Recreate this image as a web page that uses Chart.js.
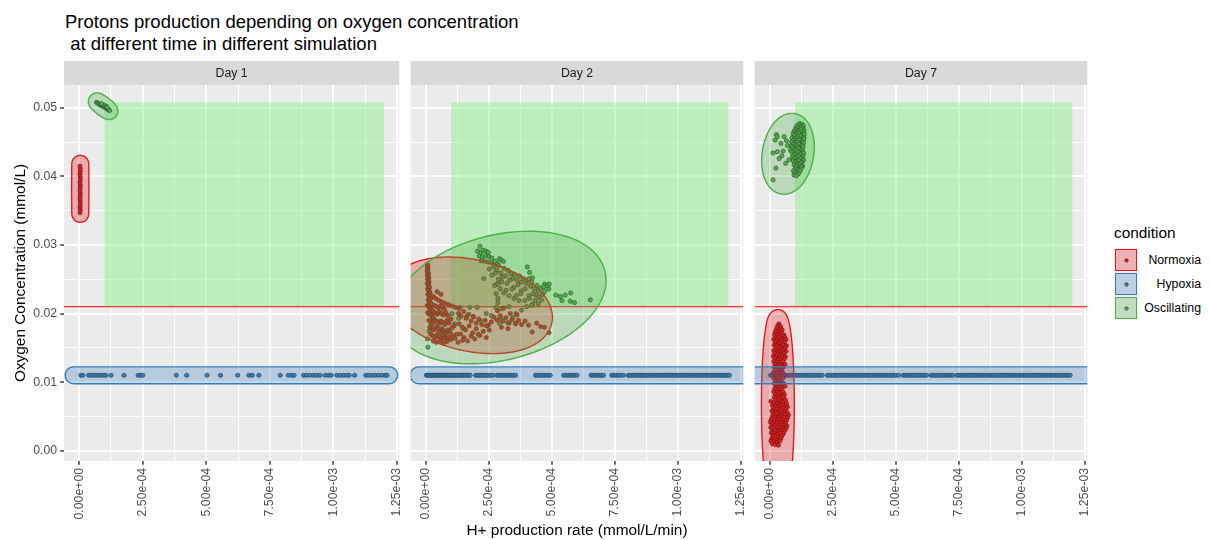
<!DOCTYPE html>
<html>
<head>
<meta charset="utf-8">
<title>Protons production depending on oxygen concentration</title>
<script src="https://cdn.jsdelivr.net/npm/chart.js@4.4.1/dist/chart.umd.min.js"></script>
<style>
  html, body { margin: 0; padding: 0; background: #ffffff; }
  body { position: relative; width: 1209px; height: 540px; overflow: hidden;
         font-family: "Liberation Sans", Arial, Helvetica, sans-serif; }
  canvas { position: absolute; top: 61px; }
  #plot-title { position: absolute; left: 65px; top: 11px; font-size: 18.5px; line-height: 21.5px;
                color: #000; white-space: pre; }
  #x-title { position: absolute; left: 64px; width: 1026px; top: 521px; text-align: center;
             font-size: 15.4px; line-height: 18px; color: #000; }
  #legend { position: absolute; left: 1114px; top: 224px; width: 87px; }
  #legend .lt { font-size: 15.4px; line-height: 18px; height: 24px; color: #000; }
  #legend .row { position: relative; height: 24.2px; width: 87px; }
  #legend .key { position: absolute; left: 0; top: 0; width: 24px; height: 24px; background: #F2F2F2; }
  #legend .key i { position: absolute; left: 1px; top: 1px; right: 1px; bottom: 1px;
                   border: 1.4px solid; box-sizing: border-box; }
  #legend .key b { position: absolute; left: 10.5px; top: 10.5px; width: 3px; height: 3px; border-radius: 50%; }
  #legend .lab { position: absolute; right: 0; top: 0; line-height: 24px; font-size: 12.3px; color: #000; }
</style>
</head>
<body>
<div id="plot-title">Protons production depending on oxygen concentration
 at different time in different simulation</div>
<canvas id="day1"></canvas>
<canvas id="day2"></canvas>
<canvas id="day7"></canvas>
<div id="x-title">H+ production rate (mmol/L/min)</div>
<div id="legend"></div>
<script>
// ---------------------------------------------------------------------------
// Data
// ---------------------------------------------------------------------------
const panels = ['Day 1', 'Day 2', 'Day 7'];
const conditions = ['Normoxia', 'Hypoxia', 'Oscillating'];
const conditionColors = ['#E41A1C', '#377EB8', '#4DAF4A'];

const xBreaks = [0, 2.5e-4, 5e-4, 7.5e-4, 1e-3, 1.25e-3];
const xMinorBreaks = [1.25e-4, 3.75e-4, 6.25e-4, 8.75e-4, 1.125e-3];
const xTickLabels = ['0.00e+00', '2.50e-04', '5.00e-04', '7.50e-04', '1.00e-03', '1.25e-03'];
const xRange = [-6e-5, 1.26e-3];

const yBreaks = [0, 0.01, 0.02, 0.03, 0.04, 0.05];
const yMinorBreaks = [0.005, 0.015, 0.025, 0.035, 0.045];
const yTickLabels = ['0.00', '0.01', '0.02', '0.03', '0.04', '0.05'];
const yRange = [-0.0015, 0.05333];

const xTitle = 'H+ production rate (mmol/L/min)';
const yTitle = 'Oxygen Concentration (mmol/L)';

// reference levels (mmol/L) and target zone
const normoxiaThreshold = 0.021;
const hypoxiaLevel = 0.011;
const zoneX = [1e-4, 1.2e-3];
const zoneY = [0.021, 0.0508];

// production rates below are listed in nmol/L/min
const RATE_UNIT = 1e-6;

// Day 1
const d1Norm = [[3,.0347],[4,.0351],[3,.0355],[4,.0359],[4,.0363],[3,.0367],[4,.0371],[4,.0375],[3,.0379],
  [4,.0383],[4,.0387],[3,.0391],[4,.0395],[4,.0399],[3,.0403],[4,.0407],[4,.0411],[3,.0415]];
const d1HypX = [6,14,37,46,57,66,77,86,96,105,125,176,232,241,250,382,423,503,556,624,668,681,707,791,823,
  836,846,883,895,908,922,935,948,968,981,992,1014,1027,1041,1054,1063,1084,1128,1139,1152,1165,1179,1192,1205,1212];
const d1Osc = [[68,.0508],[72,.0507],[76,.0506],[80,.0505],[84,.0504],[88,.0503],[92,.0503],[96,.0502],
  [100,.0501],[104,.0500],[108,.0499],[112,.0498],[116,.0497],[120,.0496],[98,.0504],[106,.0502],[110,.0501],[88,.0506]];

// Day 2
const d2Norm = [[5,.0272],[8,.0270],[6,.0267],[9,.0265],[5,.0262],[8,.0260],[11,.0258],[6,.0256],[9,.0254],
  [12,.0252],[7,.0250],[10,.0248],[13,.0246],[6,.0244],[9,.0242],[12,.0240],[15,.0238],[7,.0236],[10,.0234],
  [14,.0232],[17,.0230],[8,.0228],[12,.0226],[16,.0224],[20,.0222],[9,.0220],[13,.0218],[18,.0216],[22,.0214],
  [6,.0212],[11,.0210],[16,.0208],[21,.0206],[26,.0204],[8,.0202],[14,.0200],[19,.0198],[24,.0196],[30,.0194],
  [34,.0212],[42,.0210],[50,.0208],[58,.0211],[66,.0209],[74,.0206],[30,.0203],[38,.0201],[46,.0199],[54,.0202],
  [62,.0200],[70,.0198],[80,.0201],[88,.0197],[12,.0190],[20,.0188],[28,.0186],[36,.0190],[44,.0188],[52,.0185],
  [60,.0189],[68,.0187],[76,.0184],[84,.0190],[92,.0186],[100,.0192],[16,.0180],[24,.0178],[32,.0176],[40,.0180],
  [48,.0177],[56,.0174],[64,.0178],[72,.0175],[80,.0172],[88,.0176],[96,.0173],[104,.0179],[112,.0182],[20,.0170],
  [28,.0167],[36,.0165],[44,.0169],[52,.0166],[60,.0163],[68,.0168],[76,.0164],[84,.0161],[92,.0166],[100,.0162],
  [108,.0168],[116,.0164],[124,.0170],[30,.0160],[42,.0158],[56,.0160],[70,.0157],[84,.0159],
  [30,.0225],[40,.0222],[52,.0219],[64,.0217],[76,.0215],[90,.0213],[104,.0211],[118,.0209],[45,.0232],[60,.0228],[132,.0207],
  [130,.0200],[140,.0196],[150,.0203],[160,.0193],[170,.0199],[180,.0189],[190,.0195],[200,.0186],[210,.0192],
  [222,.0184],[235,.0190],[248,.0183],[260,.0188],[132,.0185],[145,.0180],[158,.0176],[172,.0182],[186,.0172],
  [200,.0178],[214,.0168],[228,.0174],[240,.0182],[252,.0176],[138,.0170],[152,.0165],[166,.0160],[180,.0167],
  [194,.0163],[208,.0170],[240,.0165],[128,.0158],[146,.0161],
  [270,.0195],[282,.0191],[295,.0197],[306,.0189],[318,.0194],[330,.0186],[342,.0191],[356,.0185],[368,.0190],
  [380,.0184],[394,.0189],[408,.0183],[422,.0173],[440,.0186],[456,.0181],[471,.0180],[489,.0172],[300,.0180],
  [326,.0178],[358,.0186],[284,.0204],[310,.0208],[335,.0200],[362,.0198]];
const d2HypX = [2,7,13,19,24,30,36,41,47,53,58,64,70,76,82,88,94,100,106,112,119,125,131,138,144,150,156,163,170,176,
  198,205,212,219,226,233,241,249,258,268,283,290,298,306,314,322,330,339,347,356,435,443,451,459,468,477,486,494,
  547,556,565,573,582,591,600,656,664,673,681,690,698,705,738,746,755,764,773,784,803,810,818,825,833,841,849,857,
  864,872,880,888,897,905,913,921,929,937,946,954,962,970,978,986,994,1002,1010,1018,1027,1035,1043,1051,1059,1067,
  1076,1084,1092,1100,1108,1116,1124,1132,1141,1149,1157,1165,1173,1181,1189,1197,1205];
const d2Osc = [[215,.0298],[205,.0291],[218,.0289],[228,.0292],[240,.0291],[248,.0289],[212,.0284],[224,.0282],
  [236,.0284],[250,.0283],[262,.0281],[220,.0277],[235,.0276],[248,.0275],[262,.0274],[275,.0276],[292,.0280],
  [300,.0278],[308,.0276],[285,.0272],
  [270,.0268],[281,.0263],[289,.0270],[298,.0259],[311,.0266],[317,.0255],[326,.0263],[338,.0258],[344,.0251],
  [352,.0257],[361,.0249],[371,.0255],[379,.0246],[387,.0251],[399,.0244],[404,.0249],[416,.0240],[421,.0246],
  [431,.0236],[441,.0241],[447,.0233],[456,.0237],[463,.0228],[471,.0232],[449,.0224],[459,.0220],[437,.0227],
  [252,.0265],[262,.0256],[276,.0259],[288,.0250],[304,.0253],[322,.0244],[333,.0249],[349,.0238],[366,.0242],
  [378,.0233],[394,.0236],[409,.0226],[426,.0229],[434,.0219],[446,.0214],[283,.0243],[301,.0246],[318,.0234],
  [342,.0236],[359,.0226],[377,.0229],[393,.0219],[412,.0222],[423,.0213],
  [230,.0251],[273,.0241],[279,.0229],[286,.0222],[279,.0209],[286,.0216],[286,.0243],[295,.0236],[310,.0230],
  [330,.0226],[350,.0222],[370,.0219],
  [403,.0268],[412,.0260],[423,.0252],[410,.0251],[472,.0243],[481,.0241],[490,.0243],[488,.0236],[468,.0239],
  [516,.0227],[533,.0225],[553,.0227],[575,.0230],[573,.0218],[653,.0220],[540,.0219],[590,.0216],
  [136,.0209],[175,.0209],[204,.0209],[104,.0200],[130,.0193],[162,.0196],[188,.0196],[299,.0193],[325,.0187],
  [292,.0186],[345,.0194],[358,.0200],[6,.0163],[8,.0151],[12,.0174],[32,.0192],[45,.0180],[60,.0172],[75,.0168],
  [90,.0175],[50,.0188],[20,.0183],[115,.0185],[150,.0178],[240,.0200],[260,.0197],[215,.0190],[380,.0205],
  [400,.0210],[420,.0212],[330,.0210],[300,.0207],[10,.0200],[14,.0230],[18,.0210]];

// Day 7
const d7Norm = [[36,.0185],[31,.0182],[43,.0181],[27,.0178],[39,.0177],[49,.0176],[23,.0174],[35,.0173],[46,.0172],
  [19,.0170],[30,.0169],[42,.0168],[56,.0169],[21,.0166],[33,.0165],[45,.0164],[60,.0165],[16,.0162],[27,.0161],
  [40,.0160],[52,.0161],[64,.0162],[22,.0158],[34,.0157],[47,.0156],[58,.0158],[18,.0154],[30,.0153],[42,.0152],
  [54,.0154],[66,.0153],[24,.0150],[36,.0149],[48,.0148],[60,.0150],[16,.0146],[28,.0145],[41,.0144],[52,.0146],
  [64,.0145],[20,.0142],[32,.0141],[44,.0140],[56,.0142],[14,.0138],[26,.0137],[38,.0136],[50,.0138],[62,.0137],
  [20,.0134],[33,.0133],[44,.0132],[58,.0134],[16,.0130],[28,.0129],[40,.0128],[52,.0130],[22,.0126],[34,.0125],
  [46,.0124],[60,.0126],[18,.0122],[30,.0121],[42,.0120],[54,.0122],[24,.0118],[36,.0117],[48,.0116],[14,.0114],
  [26,.0113],[38,.0112],[50,.0114],[20,.0110],[32,.0109],[44,.0108],[56,.0110],[16,.0106],[28,.0105],[40,.0104],
  [52,.0106],[22,.0102],[34,.0101],[46,.0100],[18,.0098],[30,.0097],[42,.0096],[54,.0098],[24,.0094],[36,.0093],
  [48,.0092],[60,.0094],[20,.0090],[32,.0089],[44,.0088],[16,.0086],[28,.0085],[40,.0084],[52,.0086],[22,.0082],
  [34,.0081],[46,.0080],[58,.0082],[18,.0078],[30,.0077],[42,.0076],[54,.0078],[4,.0072],[24,.0074],[36,.0073],
  [48,.0072],[62,.0074],[14,.0070],[28,.0069],[40,.0068],[52,.0070],[66,.0069],[10,.0066],[22,.0065],[34,.0064],
  [46,.0066],[58,.0065],[70,.0064],[16,.0062],[28,.0061],[40,.0060],[52,.0062],[64,.0061],[8,.0058],[20,.0057],
  [32,.0056],[44,.0058],[56,.0057],[68,.0056],[14,.0054],[26,.0053],[38,.0052],[50,.0054],[62,.0053],[74,.0052],
  [10,.0050],[22,.0049],[34,.0048],[46,.0050],[58,.0049],[70,.0048],[6,.0046],[18,.0045],[30,.0044],[42,.0046],
  [54,.0045],[66,.0044],[2,.0042],[14,.0041],[26,.0040],[38,.0042],[50,.0041],[62,.0040],[8,.0038],[20,.0037],
  [32,.0036],[44,.0038],[56,.0037],[68,.0036],[4,.0034],[16,.0033],[28,.0032],[40,.0034],[52,.0033],[64,.0032],
  [10,.0030],[22,.0029],[34,.0028],[46,.0030],[58,.0029],[6,.0026],[18,.0025],[30,.0024],[42,.0026],[54,.0025],
  [12,.0022],[24,.0021],[36,.0020],[48,.0022],[8,.0018],[20,.0017],[32,.0016],[44,.0018],[4,.0014],[16,.0013],
  [28,.0012],[40,.0014],[10,.0010],[22,.0009],[34,.0008]];
const d7HypX = [3,12,21,29,38,46,55,63,72,80,89,97,106,114,123,131,140,148,157,165,174,182,191,199,208,228,236,
  245,253,262,270,279,287,296,304,313,321,330,338,347,355,364,372,381,389,398,406,415,423,432,440,449,457,466,474,
  483,491,500,510,528,537,545,554,562,571,579,588,596,605,613,622,640,649,657,666,674,683,691,700,708,717,726,742,
  751,759,768,776,785,793,802,810,819,827,836,844,853,861,870,878,887,895,904,912,921,929,938,946,955,963,972,980,
  989,997,1006,1014,1023,1031,1040,1048,1057,1065,1074,1082,1091,1099,1108,1116,1125,1133,1142,1150,1159,1167,
  1176,1184,1192];
const d7Osc = [[118,.0477],[127,.0476],[108,.0474],[122,.0473],[133,.0474],[104,.0471],[115,.0470],[126,.0471],
  [135,.0469],[100,.0468],[112,.0467],[124,.0468],[136,.0466],[96,.0465],[108,.0464],[120,.0465],[132,.0463],
  [92,.0462],[104,.0461],[116,.0462],[128,.0460],[137,.0461],[98,.0459],[110,.0458],[122,.0459],[134,.0457],
  [88,.0456],[100,.0455],[112,.0456],[124,.0454],[136,.0455],[94,.0453],[106,.0452],[118,.0453],[130,.0451],
  [86,.0450],[98,.0449],[110,.0450],[122,.0448],[134,.0449],[92,.0447],[104,.0446],[116,.0447],[128,.0445],
  [84,.0444],[96,.0443],[108,.0444],[120,.0442],[132,.0443],[90,.0441],[102,.0440],[114,.0441],[126,.0439],
  [82,.0438],[94,.0437],[106,.0438],[118,.0436],[130,.0437],[88,.0435],[100,.0434],[112,.0435],[124,.0433],
  [134,.0434],[96,.0432],[108,.0431],[120,.0432],[132,.0430],[90,.0429],[102,.0428],[114,.0429],[126,.0427],
  [98,.0426],[110,.0425],[122,.0426],[134,.0424],[92,.0423],[104,.0422],[116,.0423],[128,.0421],[100,.0420],
  [112,.0419],[124,.0420],[96,.0417],[108,.0416],[120,.0417],[130,.0415],[104,.0414],[116,.0413],[126,.0414],
  [100,.0411],[112,.0410],[124,.0411],[94,.0408],[108,.0407],[120,.0408],[100,.0405],[114,.0404],[96,.0402],
  [106,.0401],[26,.0461],[30,.0458],[21,.0453],[13,.0434],[30,.0436],[53,.0437],[37,.0426],[63,.0419],[76,.0424],
  [44,.0448],[57,.0458],[70,.0445],[24,.0412],[13,.0395],[48,.0430],[66,.0452]];

// Enclosing ellipses per group: [centre rate, centre O2, half-axis u (rate, O2), half-axis v (rate, O2)]
const d1NormEllipse = [4, 0.03818, 1, 0, 0, 0.00366];
const d1HypEllipse = [599, 0.011, 621, 0, 0, 0];
const d1OscEllipse = [94, 0.05023, 25, -0.000686, 0, 0.00022];
const d2NormEllipse = [178, 0.0212, 291, -0.00175, 0, 0.00555];
const d2HypEllipse = [616, 0.011, 644, 0, 0, 0];
const d2OscEllipse = [293, 0.02234, 389, 0.00251, 0, 0.00806];
const d7NormEllipse = [32, 0.0067, 32, 0, 0, 0.01265];
const d7HypEllipse = [620, 0.011, 700, 0, 0, 0];
const d7OscEllipse = [72, 0.0433, 71, 0.00102, 0, 0.00456];

// ---------------------------------------------------------------------------
// Assembly
// ---------------------------------------------------------------------------
const toRate = v => v * RATE_UNIT;
const hypPoints = xs => xs.map(x => [x, hypoxiaLevel]);

const panelData = [
  { points: [d1Norm, hypPoints(d1HypX), d1Osc], ellipses: [d1NormEllipse, d1HypEllipse, d1OscEllipse] },
  { points: [d2Norm, hypPoints(d2HypX), d2Osc], ellipses: [d2NormEllipse, d2HypEllipse, d2OscEllipse] },
  { points: [d7Norm, hypPoints(d7HypX), d7Osc], ellipses: [d7NormEllipse, d7HypEllipse, d7OscEllipse] }
];

const FONT = '"Liberation Sans", Arial, Helvetica, sans-serif';
const canvasIds = ['day1', 'day2', 'day7'];
const panelLeft = [64, 408, 752];
const PANEL_W = 338, STRIP_H = 24, CANVAS_H = 479, XAXIS_H = 79, YAXIS_W = 64;
const ELLIPSE_PAD = 8.4;    // outline distance around each group, px
const ELLIPSE_ALPHA = 0.3;

Chart.defaults.font.family = FONT;

function hexA(hex, a) {
  const n = parseInt(hex.slice(1), 16);
  return `rgba(${(n >> 16) & 255},${(n >> 8) & 255},${n & 255},${a})`;
}
function labelFor(breaks, labels, v) {
  const k = breaks.findIndex(b => Math.abs(b - v) < 1e-12);
  return k < 0 ? '' : labels[k];
}
function isMajor(breaks, ctx) {
  return !!(ctx && ctx.tick) && breaks.some(b => Math.abs(b - ctx.tick.value) < 1e-12);
}

// outline of an ellipse grown by a fixed pixel margin (support-function form)
function ellipseOutline(chart, e) {
  const xs = chart.scales.x, ys = chart.scales.y;
  const cx = toRate(e[0]), cy = e[1];
  const px = xs.getPixelForValue(cx), py = ys.getPixelForValue(cy);
  const Ux = xs.getPixelForValue(cx + toRate(e[2])) - px, Uy = ys.getPixelForValue(cy + e[3]) - py;
  const Vx = xs.getPixelForValue(cx + toRate(e[4])) - px, Vy = ys.getPixelForValue(cy + e[5]) - py;
  const a = Ux * Ux + Vx * Vx + 1e-6, b = Ux * Uy + Vx * Vy, c = Uy * Uy + Vy * Vy + 1e-6;
  const pts = [];
  const N = 360;
  for (let i = 0; i < N; i++) {
    const t = (i / N) * Math.PI * 2;
    const n1 = Math.cos(t), n2 = Math.sin(t);
    const s1 = a * n1 + b * n2, s2 = b * n1 + c * n2;
    const h = Math.sqrt(n1 * s1 + n2 * s2);
    pts.push([px + s1 / h + ELLIPSE_PAD * n1, py + s2 / h + ELLIPSE_PAD * n2]);
  }
  return pts;
}

const facetPlugin = {
  id: 'facet',
  beforeDraw(chart, _args, opts) {
    const { ctx, chartArea: a } = chart;
    ctx.save();
    ctx.fillStyle = '#EBEBEB';
    ctx.fillRect(a.left, a.top, a.right - a.left, a.bottom - a.top);
    ctx.fillStyle = '#D9D9D9';
    ctx.fillRect(a.left, a.top - STRIP_H, a.right - a.left, STRIP_H);
    ctx.fillStyle = '#1A1A1A';
    ctx.font = `12.3px ${FONT}`;
    ctx.textAlign = 'center';
    ctx.textBaseline = 'middle';
    ctx.fillText(opts.label, (a.left + a.right) / 2, a.top - STRIP_H / 2 + 0.5);
    ctx.restore();
  },
  beforeDatasetsDraw(chart) {
    const { ctx, chartArea: a, scales: { x, y } } = chart;
    ctx.save();
    ctx.beginPath();
    ctx.rect(a.left, a.top, a.right - a.left, a.bottom - a.top);
    ctx.clip();
    const x0 = x.getPixelForValue(zoneX[0]), x1 = x.getPixelForValue(zoneX[1]);
    const y0 = y.getPixelForValue(zoneY[0]), y1 = y.getPixelForValue(zoneY[1]);
    ctx.fillStyle = 'rgba(144,238,144,0.5)';
    ctx.fillRect(x0, y1, x1 - x0, y0 - y1);
    const yl = y.getPixelForValue(normoxiaThreshold);
    ctx.strokeStyle = '#FF0000';
    ctx.lineWidth = 1.1;
    ctx.beginPath();
    ctx.moveTo(a.left, yl);
    ctx.lineTo(a.right, yl);
    ctx.stroke();
    ctx.restore();
  },
  afterDatasetsDraw(chart, _args, opts) {
    const { ctx, chartArea: a } = chart;
    ctx.save();
    ctx.beginPath();
    ctx.rect(a.left, a.top, a.right - a.left, a.bottom - a.top);
    ctx.clip();
    opts.ellipses.forEach((e, c) => {
      const pts = ellipseOutline(chart, e);
      ctx.beginPath();
      pts.forEach(([px, py], k) => (k ? ctx.lineTo(px, py) : ctx.moveTo(px, py)));
      ctx.closePath();
      ctx.fillStyle = hexA(conditionColors[c], ELLIPSE_ALPHA);
      ctx.fill();
      ctx.strokeStyle = conditionColors[c];
      ctx.lineWidth = 1.4;
      ctx.stroke();
    });
    ctx.restore();
  }
};

function buildPanel(i) {
  const canvas = document.getElementById(canvasIds[i]);
  const showY = i === 0;
  const left = panelLeft[i] - (showY ? YAXIS_W : 0);
  const width = PANEL_W + (showY ? YAXIS_W : 0);
  canvas.width = width;
  canvas.height = CANVAS_H;
  canvas.style.left = left + 'px';
  canvas.style.width = width + 'px';
  canvas.style.height = CANVAS_H + 'px';

  const datasets = conditions.map((name, c) => ({
    label: name,
    data: panelData[i].points[c].map(([x, y]) => ({ x: toRate(x), y })),
    backgroundColor: conditionColors[c],
    borderColor: '#1E1E1E',
    borderWidth: 0.6,
    pointRadius: 2.1,
    pointHoverRadius: 2.1
  }));

  new Chart(canvas, {
    type: 'scatter',
    data: { datasets },
    plugins: [facetPlugin],
    options: {
      responsive: false,
      animation: false,
      devicePixelRatio: 1,
      events: [],
      layout: { padding: { top: STRIP_H, left: 0, right: 0, bottom: 0 } },
      plugins: {
        legend: { display: false },
        tooltip: { enabled: false },
        facet: { label: panels[i], ellipses: panelData[i].ellipses }
      },
      scales: {
        x: {
          type: 'linear',
          min: xRange[0],
          max: xRange[1],
          afterBuildTicks: s => {
            s.ticks = xBreaks.concat(xMinorBreaks).sort((p, q) => p - q).map(v => ({ value: v }));
          },
          afterFit: s => { s.height = XAXIS_H; s.paddingLeft = 0; s.paddingRight = 0; },
          border: { display: false },
          grid: {
            color: '#FFFFFF',
            lineWidth: ctx => (isMajor(xBreaks, ctx) ? 2 : 1),
            drawTicks: true,
            tickLength: 3.85,
            tickWidth: 1.4,
            tickColor: ctx => (isMajor(xBreaks, ctx) ? '#333333' : 'rgba(0,0,0,0)')
          },
          ticks: {
            autoSkip: false,
            minRotation: 90,
            maxRotation: 90,
            padding: 3,
            color: '#4D4D4D',
            font: { size: 12.3, family: FONT },
            callback: v => labelFor(xBreaks, xTickLabels, v)
          }
        },
        y: {
          type: 'linear',
          min: yRange[0],
          max: yRange[1],
          afterBuildTicks: s => {
            s.ticks = yBreaks.concat(yMinorBreaks).sort((p, q) => p - q).map(v => ({ value: v }));
          },
          afterFit: s => { s.width = showY ? YAXIS_W : 0; s.paddingTop = 0; s.paddingBottom = 0; },
          border: { display: false },
          grid: {
            color: '#FFFFFF',
            lineWidth: ctx => (isMajor(yBreaks, ctx) ? 2 : 1),
            drawTicks: showY,
            tickLength: 3.85,
            tickWidth: 1.4,
            tickColor: ctx => (isMajor(yBreaks, ctx) ? '#333333' : 'rgba(0,0,0,0)')
          },
          ticks: {
            display: showY,
            autoSkip: false,
            padding: 3,
            color: '#4D4D4D',
            font: { size: 12.3, family: FONT },
            callback: v => labelFor(yBreaks, yTickLabels, v)
          },
          title: {
            display: showY,
            text: yTitle,
            color: '#000000',
            font: { size: 15.4, family: FONT },
            padding: { top: 11.8, bottom: 0 }
          }
        }
      }
    }
  });
}

panels.forEach((_, i) => buildPanel(i));

// legend
document.getElementById('x-title').textContent = xTitle;
const legend = document.getElementById('legend');
legend.innerHTML = '<div class="lt">condition</div>' + conditions.map((name, c) =>
  `<div class="row"><span class="key"><i style="background:${hexA(conditionColors[c], ELLIPSE_ALPHA)};border-color:${conditionColors[c]}"></i>` +
  `<b style="background:${conditionColors[c]};box-shadow:0 0 0 0.5px #222"></b></span>` +
  `<span class="lab">${name}</span></div>`).join('');
</script>
</body>
</html>
